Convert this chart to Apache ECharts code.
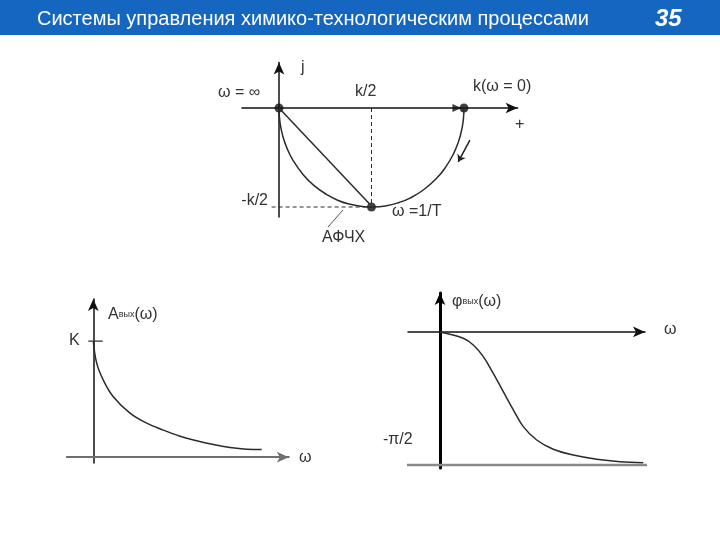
<!DOCTYPE html>
<html>
<head>
<meta charset="utf-8">
<script src="https://cdn.jsdelivr.net/npm/echarts@6/dist/echarts.min.js"></script>
<style>
  html, body { margin: 0; padding: 0; background: #fff; }
  #chart { width: 720px; height: 540px; }
</style>
</head>
<body>
<div id="chart"></div>
<script>
// АФЧХ (годограф), k = 1: [Re, Im]
const afchPoints = [
  [0, 0], [0.005, -0.07], [0.02, -0.14], [0.042, -0.2], [0.075, -0.263],
  [0.131, -0.337], [0.19, -0.392], [0.258, -0.437], [0.32, -0.467], [0.384, -0.486],
  [0.45, -0.497], [0.508, -0.5], [0.58, -0.494], [0.65, -0.477], [0.708, -0.455],
  [0.78, -0.414], [0.852, -0.355], [0.9, -0.3], [0.942, -0.234], [0.97, -0.171],
  [0.988, -0.109], [0.997, -0.055], [1, 0]
];
const afchDots = [[0, 0], [0.5, -0.5], [1, 0]];   // ω = ∞, ω = 1/T, ω = 0
const chord = [[0, 0], [0.49, -0.485]];
const halfKVert = [[0.5, 0], [0.5, -0.5]];
const halfKHoriz = [[-0.04, -0.5], [0.5, -0.5]];
const dirArrow = [[1.032, -0.162], [0.969, -0.272]];
const afchPointer = [[0.265, -0.601], [0.346, -0.515]];

// АЧХ: [ω, Aвых/K]
const ampPoints = [
  [0, 1.0], [0.068, 0.81], [0.2, 0.664], [0.4, 0.52], [0.734, 0.379],
  [1.068, 0.293], [1.4, 0.233], [1.734, 0.181], [2.068, 0.141],
  [2.4, 0.109], [2.734, 0.084], [3.068, 0.069], [3.368, 0.066]
];
const kTick = [[-0.1, 1], [0.19, 1]];

// ФЧХ: [ω, φвых, рад]
const phasePoints = [
  [0, 0], [0.388, -0.074], [0.555, -0.154], [0.722, -0.292], [0.888, -0.489],
  [1.055, -0.705], [1.222, -0.92], [1.388, -1.118], [1.612, -1.276],
  [1.888, -1.385], [2.222, -1.453], [2.612, -1.503], [3.0, -1.532], [3.388, -1.544]
];
const phaseAsymptote = [[-0.55, -Math.PI / 2], [3.55, -Math.PI / 2]];

const INK = '#2b2b2b';
const FONT = '"Liberation Sans", Arial, sans-serif';

function plainAxis(min, max, color, width) {
  return {
    type: 'value', min: min, max: max,
    axisLine: {
      show: true, onZero: true,
      symbol: ['none', 'arrow'], symbolSize: [8, 12],
      lineStyle: { color: color, width: width }
    },
    axisTick: { show: false },
    axisLabel: { show: false },
    splitLine: { show: false }
  };
}

function curve(name, data, xi, extra) {
  return Object.assign({
    name: name, type: 'line', data: data,
    xAxisIndex: xi, yAxisIndex: xi,
    showSymbol: false, silent: true,
    lineStyle: { color: INK, width: 1.5 }
  }, extra || {});
}

function label(text, x, y, opts) {
  return {
    type: 'text', x: x, y: y, silent: true,
    style: Object.assign({
      text: text, fill: '#333', font: '16px ' + FONT,
      verticalAlign: 'middle'
    }, opts || {})
  };
}

const chart = echarts.init(document.getElementById('chart'));

const option = {
  animation: false,
  backgroundColor: '#fff',
  grid: [
    { left: 242, top: 62.5, width: 275.6, height: 154.4 },
    { left: 66.8, top: 299, width: 222, height: 164 },
    { left: 408, top: 293, width: 237, height: 175 }
  ],
  xAxis: [
    Object.assign(plainAxis(-0.2, 1.29, '#111', 1.5), { gridIndex: 0 }),
    Object.assign(plainAxis(-0.53, 3.91, '#6f6f6f', 2), { gridIndex: 1 }),
    Object.assign(plainAxis(-0.533, 3.417, '#111', 1.5), { gridIndex: 2 })
  ],
  yAxis: [
    Object.assign(plainAxis(-0.55, 0.23, '#111', 1.5), { gridIndex: 0 }),
    Object.assign(plainAxis(-0.05, 1.362, '#111', 1.5), { gridIndex: 1 }),
    Object.assign(plainAxis(-1.607, 0.46, '#000', 3), { gridIndex: 2 })
  ],
  series: [
    curve('АФЧХ', afchPoints, 0, { smooth: 0.5 }),
    curve('chord', chord, 0),
    curve('k/2', halfKVert, 0, { lineStyle: { color: INK, width: 1, type: [4, 3] } }),
    curve('-k/2', halfKHoriz, 0, { lineStyle: { color: INK, width: 1, type: [4, 3] } }),
    curve('pointer', afchPointer, 0, { clip: false, lineStyle: { color: '#555', width: 1 } }),
    {
      name: 'dots', type: 'scatter', data: afchDots,
      xAxisIndex: 0, yAxisIndex: 0, symbolSize: 9, silent: true,
      itemStyle: { color: '#111' }
    },
    {
      name: 'dir', type: 'scatter', data: [[0.962, 0]],
      xAxisIndex: 0, yAxisIndex: 0, symbol: 'triangle', symbolRotate: -90,
      symbolSize: [8, 9], silent: true, itemStyle: { color: '#111' }
    },
    {
      name: 'direction', type: 'lines', coordinateSystem: 'cartesian2d',
      xAxisIndex: 0, yAxisIndex: 0, clip: false, silent: true,
      symbol: ['none', 'arrow'], symbolSize: 7,
      lineStyle: { color: '#222', width: 1.5, opacity: 1 },
      data: [{ coords: dirArrow }]
    },

    curve('Aвых', ampPoints, 1, { smooth: 0.4 }),
    curve('K', kTick, 1, { clip: false, lineStyle: { color: '#333', width: 1.2 } }),

    curve('φвых', phasePoints, 2, { smooth: 0.4 }),
    curve('-π/2', phaseAsymptote, 2, { clip: false, lineStyle: { color: '#8a8a8a', width: 2.5 } })
  ],
  graphic: [
    { type: 'rect', shape: { x: 0, y: 0, width: 720, height: 35 }, style: { fill: '#1466c0' }, silent: true },
    label('Системы управления химико-технологическим процессами', 37, 19,
      { fill: '#fff', font: '20px "Liberation Sans Narrow", "Arial Narrow", ' + FONT }),
    label('35', 655, 19, { fill: '#fff', font: 'italic bold 24px ' + FONT }),

    label('j', 301, 68),
    label('ω = ∞', 218, 93),
    label('k/2', 355, 92),
    label('k(ω = 0)', 473, 87),
    label('+', 515, 125),
    label('-k/2', 268, 201, { align: 'right' }),
    label('ω =1/T', 392, 212),
    label('АФЧХ', 322, 238),

    label('A{s|вых}(ω)', 108, 315, { rich: { s: { fontSize: 9, fill: '#333', fontFamily: FONT } } }),
    label('K', 69, 341),
    label('ω', 299, 458),

    label('φ{s|вых}(ω)', 452, 302, { rich: { s: { fontSize: 9, fill: '#333', fontFamily: FONT } } }),
    label('ω', 664, 330),
    label('-π/2', 383, 440)
  ]
};

chart.setOption(option);
</script>
</body>
</html>
